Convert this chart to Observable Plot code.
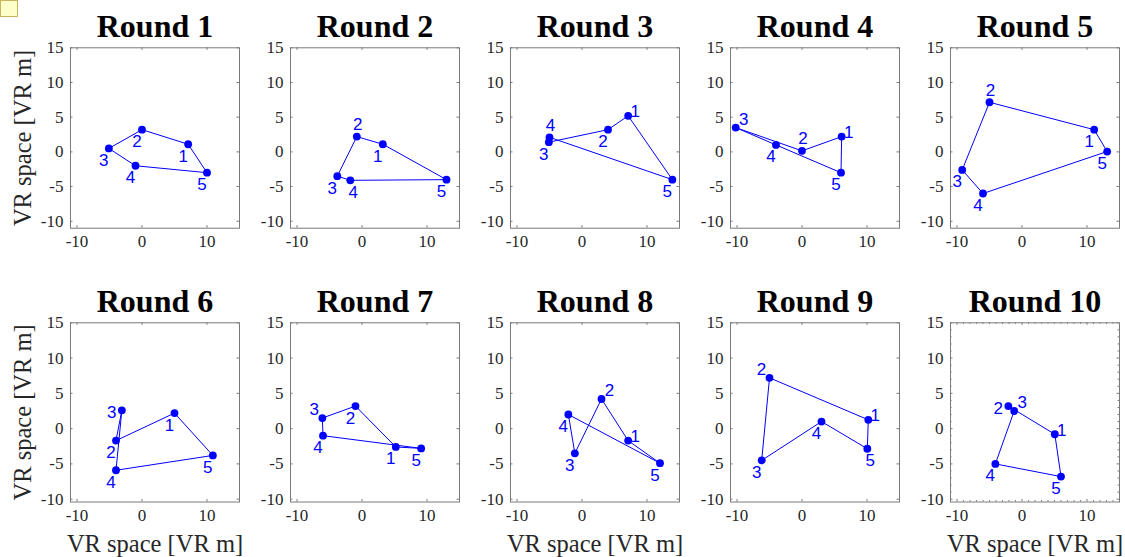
<!DOCTYPE html>
<html>
<head>
<meta charset="utf-8">
<script src="https://cdn.jsdelivr.net/npm/d3@7"></script>
<script src="https://cdn.jsdelivr.net/npm/@observablehq/plot@0.6"></script>
<style>
  body { margin: 0; background: #fff; }
  #chart { position: relative; width: 1125px; height: 557px; overflow: hidden; background: #fff; }
  #chart svg { position: absolute; background: transparent; overflow: visible; }
  .note { position: absolute; left: 0; top: 0; width: 18px; height: 17px; background: #ffffcc; border: 1px solid #c9b35b; box-sizing: border-box; }
</style>
</head>
<body>
<div id="chart"><div class="note"></div></div>
<script>
// ---- data ----
const rounds = [1, 2, 3, 4, 5, 6, 7, 8, 9, 10];
const pointIds = [1, 2, 3, 4, 5];
const roundX = [
  [7.1, 0.0, -5.1, -1.0, 10.0],
  [3.2, -0.8, -3.8, -1.8, 13.0],
  [7.1, 4.0, -5.1, -5.0, 13.9],
  [6.1, 0.0, -10.2, -4.0, 6.0],
  [11.1, -5.0, -9.2, -6.0, 13.1],
  [5.0, -4.0, -3.1, -4.0, 10.9],
  [5.2, -1.0, -6.1, -6.0, 9.1],
  [7.1, 3.0, -1.1, -2.1, 12.0],
  [10.2, -5.0, -6.2, 3.0, 10.05],
  [5.05, -2.1, -1.2, -4.1, 6.0]
];
const roundY = [
  [1.1, 3.2, 0.5, -2.0, -3.0],
  [1.1, 2.2, -3.5, -4.1, -4.0],
  [5.2, 3.2, 1.4, 2.1, -4.0],
  [2.2, 0.15, 3.5, 1.0, -3.0],
  [3.2, 7.15, -2.6, -6.0, 0.05],
  [2.2, -1.7, 2.6, -5.9, -3.8],
  [-2.6, 3.2, 1.5, -1.0, -2.8],
  [-1.7, 4.2, -3.5, 2.0, -4.9],
  [1.25, 7.2, -4.5, 1.0, -2.85],
  [-0.8, 3.2, 2.5, -5.0, -6.8]
];
// where each point's number label sits relative to its dot
const labelSides = [
  ["bl", "bl", "bl", "bl", "bl"],
  ["bl", "t", "bl", "b", "bl"],
  ["r", "bl", "bl", "t", "bl"],
  ["r", "t", "tr", "bl", "bl"],
  ["bl", "t", "bl", "bl", "bl"],
  ["bl", "bl", "l", "bl", "bl"],
  ["bl", "bl", "tl", "bl", "bl"],
  ["r", "tr", "bl", "bl", "bl"],
  ["r", "tl", "bl", "bl", "b"],
  ["r", "l", "tr", "bl", "bl"]
];
const xTicks = [-10, 0, 10];
const yTicks = [-10, -5, 0, 5, 10, 15];
const axisLabel = "VR space [VR m]";
const titlePrefix = "Round ";
const minorTickRound = 10; // the only panel drawn with minor ticks

// ---- styling / layout ----
const sideOffsets = {
  bl: [-5, 12], b: [3, 12], t: [1, -12], tr: [8, -8],
  r: [7, -4], l: [-10, 2], tl: [-8, -8]
};
const serif = "'Liberation Serif', 'Times New Roman', Times, serif";
const sans = "'Liberation Sans', Arial, Helvetica, sans-serif";
const axisGray = "#7a7a7a";
const textGray = "#262626";
const blue = "#0000ff";

const chart = document.getElementById("chart");

rounds.forEach((round, i) => {
  const row = Math.floor(i / 5), col = i % 5;
  const W = 242, ml = 70, fw = 169;
  const mt = 47.3;
  const fh = row === 0 ? 180.4 : 179.2;
  const H = row === 0 ? 275 : 282;
  const yDomain = row === 0 ? [-11, 15] : [-10.4, 15];
  const tickLen = 2.5, minorLen = 1.5;

  const pts = pointIds.map((id, j) => ({ id, x: roundX[i][j], y: roundY[i][j], side: labelSides[i][j] }));
  const path = [...pts, pts[0]];

  const marks = [Plot.frame({ stroke: axisGray, strokeWidth: 1 })];
  if (round === minorTickRound) {
    const xMinor = d3.range(-10, 15, 1).filter(v => !xTicks.includes(v));
    const yMinor = d3.range(-10, 15, 1).filter(v => !yTicks.includes(v));
    marks.push(
      Plot.tickX(xMinor, { x: d => d, insetTop: fh - minorLen, stroke: axisGray }),
      Plot.tickX(xMinor, { x: d => d, insetBottom: fh - minorLen, stroke: axisGray }),
      Plot.tickY(yMinor, { y: d => d, insetRight: fw - minorLen, stroke: axisGray }),
      Plot.tickY(yMinor, { y: d => d, insetLeft: fw - minorLen, stroke: axisGray })
    );
  }
  marks.push(
    Plot.tickX(xTicks, { x: d => d, insetTop: fh - tickLen, stroke: axisGray }),
    Plot.tickX(xTicks, { x: d => d, insetBottom: fh - tickLen, stroke: axisGray }),
    Plot.tickY(yTicks, { y: d => d, insetRight: fw - tickLen, stroke: axisGray }),
    Plot.tickY(yTicks, { y: d => d, insetLeft: fw - tickLen, stroke: axisGray }),
    Plot.axisX({ ticks: xTicks, tickSize: 0, tickPadding: 6.7, fontSize: 17, color: textGray, tickFormat: d => String(d), label: null }),
    Plot.axisY({ ticks: yTicks, tickSize: 0, tickPadding: 7, fontSize: 17, color: textGray, tickFormat: d => String(d), label: null }),
    Plot.line(path, { x: "x", y: "y", stroke: blue, strokeWidth: 1 }),
    Plot.dot(pts, { x: "x", y: "y", r: 3.9, fill: blue, stroke: "none" }),
    ...Object.keys(sideOffsets).map(side => Plot.text(pts.filter(p => p.side === side), {
      x: "x", y: "y", text: d => String(d.id),
      dx: sideOffsets[side][0], dy: sideOffsets[side][1],
      fontSize: 17, fontFamily: sans, fill: blue
    })),
    Plot.text([titlePrefix + round], {
      frameAnchor: "top", lineAnchor: "top", dy: -33.3, fontSize: 32, fontWeight: "bold", fontFamily: serif, fill: "#000"
    })
  );
  if (col === 0) {
    marks.push(Plot.text([axisLabel], {
      frameAnchor: "left", textAnchor: "middle", lineAnchor: "middle", rotate: -90, dx: -47,
      fontSize: 24.5, fontFamily: serif, fill: textGray
    }));
  }
  if (row === 1 && col % 2 === 0) {
    marks.push(Plot.text([axisLabel], {
      frameAnchor: "bottom", dy: 50, fontSize: 24.5, fontFamily: serif, fill: textGray
    }));
  }

  const svg = Plot.plot({
    width: W, height: H,
    marginLeft: ml, marginRight: W - ml - fw,
    marginTop: mt, marginBottom: H - mt - fh,
    x: { domain: [-11, 15] },
    y: { domain: yDomain },
    style: { fontFamily: serif, background: "transparent", overflow: "visible" },
    marks
  });
  svg.style.left = (220 * col) + "px";
  svg.style.top = (row * 275) + "px";
  chart.appendChild(svg);
});
</script>
</body>
</html>
